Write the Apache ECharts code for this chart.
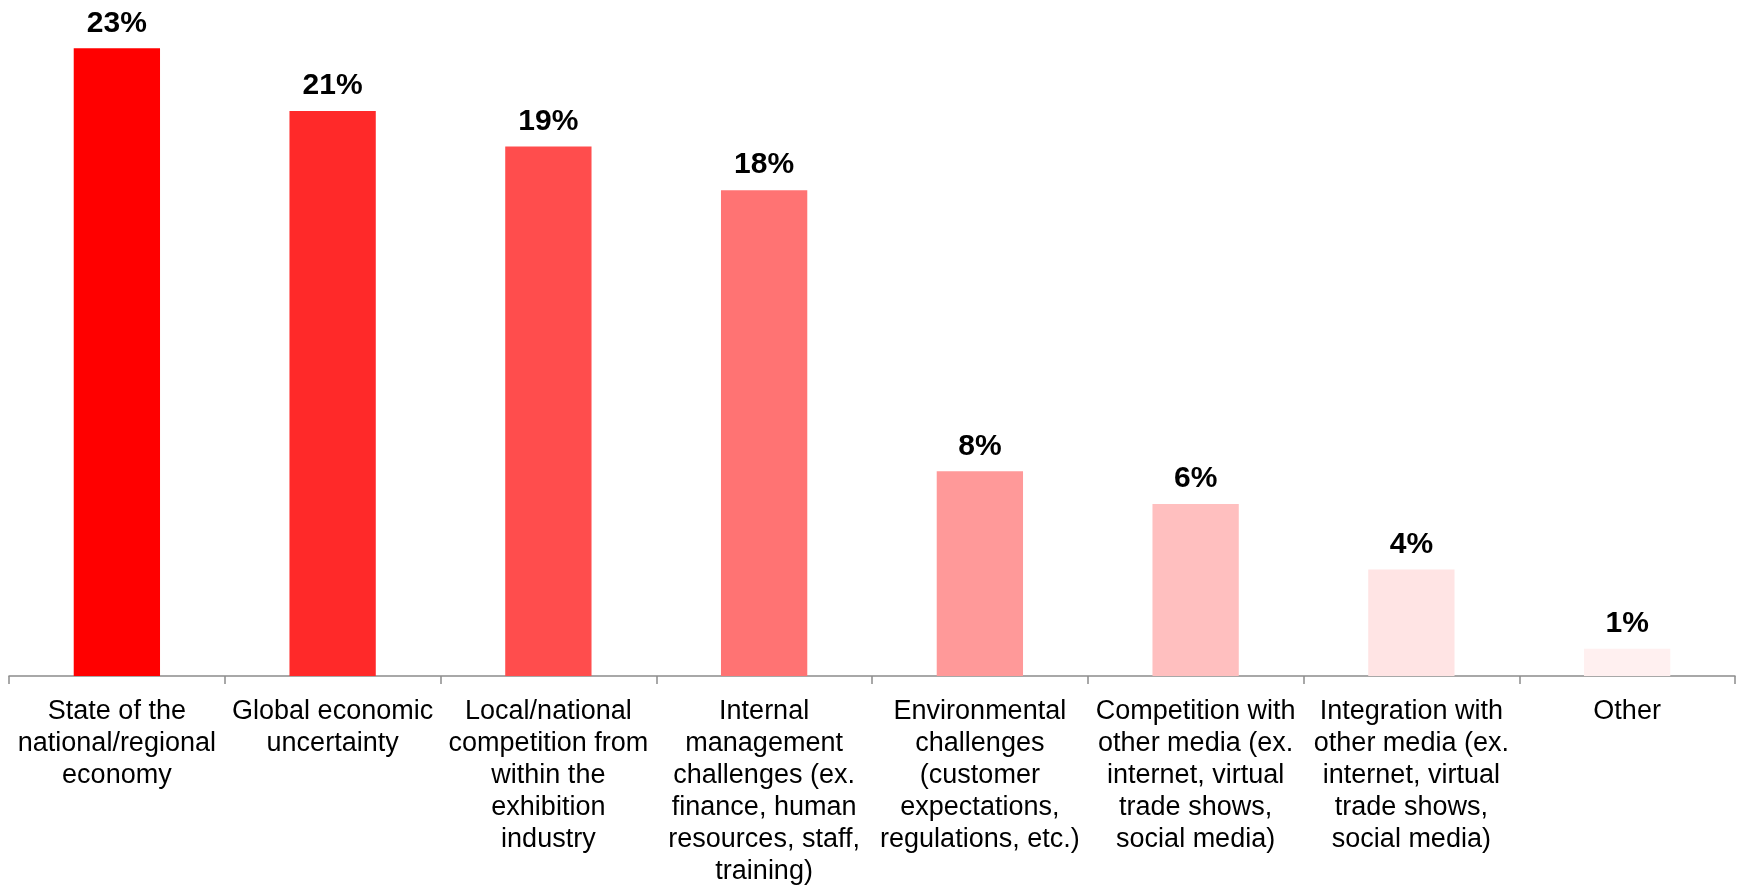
<!DOCTYPE html>
<html>
<head>
<meta charset="utf-8">
<script src="https://cdn.jsdelivr.net/npm/echarts@6/dist/echarts.min.js"></script>
<style>
html,body{margin:0;padding:0;background:#fff;}
#chart{width:1737px;height:888px;}
</style>
</head>
<body>
<div id="chart"></div>
<script>
const categories = [
  "State of the\nnational/regional\neconomy",
  "Global economic\nuncertainty",
  "Local/national\ncompetition from\nwithin the\nexhibition\nindustry",
  "Internal\nmanagement\nchallenges (ex.\nfinance, human\nresources, staff,\ntraining)",
  "Environmental\nchallenges\n(customer\nexpectations,\nregulations, etc.)",
  "Competition with\nother media (ex.\ninternet, virtual\ntrade shows,\nsocial media)",
  "Integration with\nother media (ex.\ninternet, virtual\ntrade shows,\nsocial media)",
  "Other"
];
const values = [23.0, 20.7, 19.4, 17.8, 7.5, 6.3, 3.9, 1.0];
const labels = ["23%", "21%", "19%", "18%", "8%", "6%", "4%", "1%"];
const colors = ["#FF0000", "#FF2929", "#FF4D4D", "#FF7373", "#FF9999", "#FFBFBF", "#FFE4E4", "#FFF0F0"];

const chart = echarts.init(document.getElementById('chart'));
chart.setOption({
  animation: false,
  backgroundColor: '#ffffff',
  grid: {left: 9, right: 2, top: 21, bottom: 209, containLabel: false},
  xAxis: {
    type: 'category',
    data: categories,
    boundaryGap: true,
    axisLine: {show: true, lineStyle: {color: '#8c8c8c', width: 1.5}},
    axisTick: {show: true, alignWithLabel: false, length: 8, lineStyle: {color: '#8c8c8c', width: 1.5}},
    axisLabel: {
      interval: 0,
      margin: 20,
      color: '#000',
      fontFamily: 'Liberation Sans, Arial, sans-serif',
      fontSize: 27,
      lineHeight: 32
    }
  },
  yAxis: {
    type: 'value',
    min: 0,
    max: 24,
    show: false,
    splitLine: {show: false}
  },
  series: [{
    type: 'bar',
    barWidth: '40%',
    data: values.map((v, i) => ({value: v, itemStyle: {color: colors[i]}})),
    label: {
      show: true,
      position: 'top',
      distance: 10,
      formatter: p => labels[p.dataIndex],
      color: '#000',
      fontWeight: 'bold',
      fontFamily: 'Liberation Sans, Arial, sans-serif',
      fontSize: 30
    }
  }]
});
</script>
</body>
</html>
